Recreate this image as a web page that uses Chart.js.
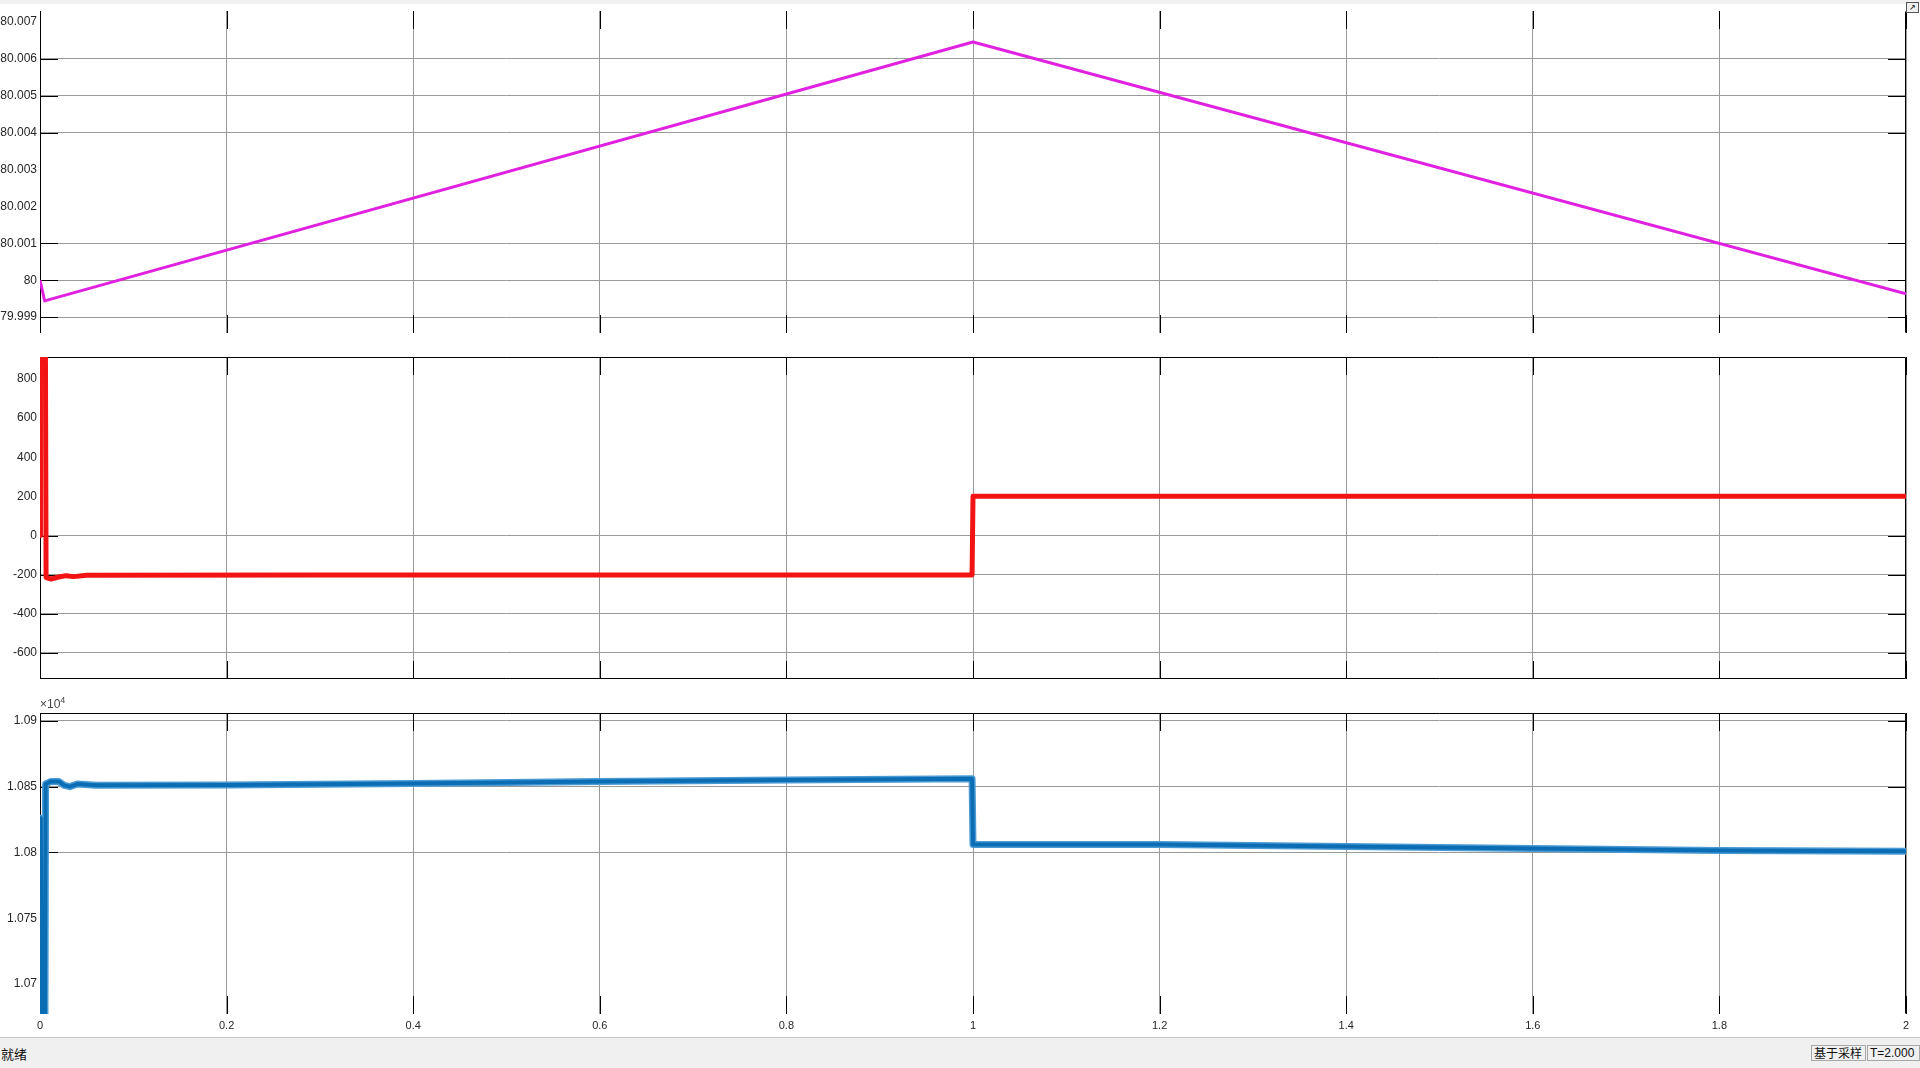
<!DOCTYPE html>
<html>
<head>
<meta charset="utf-8">
<script src="https://cdn.jsdelivr.net/npm/chart.js@4.4.1/dist/chart.umd.min.js"></script>
<style>
  html, body { margin:0; padding:0; background:#fff; width:1920px; height:1068px; overflow:hidden; font-family:'Liberation Sans', Arial, sans-serif; }
  .panel { position:absolute; left:0; width:1920px; }
  #p1 { top:0; height:345px; }
  #p2 { top:345px; height:355px; }
  #p3 { top:700px; height:338px; }
  #topstrip { position:absolute; left:0; top:0; width:1920px; height:4px; background:#f0f0f0; }
  #undock { position:absolute; left:1906px; top:2px; width:11px; height:9px; border:1px solid #555; background:#eee; font-size:8px; line-height:9px; text-align:center; color:#000; }
  #exp { position:absolute; left:40px; top:695px; font-size:12px; color:#444; }
  #exp sup { font-size:9px; }
  #status { position:absolute; left:0; top:1037px; width:1920px; height:31px; background:#f0f0f0; border-top:1px solid #c8c8c8; box-sizing:border-box; }
  #ready { position:absolute; left:1px; top:6px; font-family:'Noto Sans CJK SC', sans-serif; font-size:13px; color:#111; }
  .box { position:absolute; top:7px; height:16px; border:1px solid #a8a8a8; box-sizing:border-box; font-size:12px; line-height:14px; color:#111; padding-left:2px; }
  #mode { left:1811px; width:55px; font-family:'Noto Sans CJK SC', sans-serif; }
  #clock { left:1867px; width:53px; }
</style>
</head>
<body>
<div id="topstrip"></div>
<div class="panel" id="p1"><canvas id="posChart"></canvas></div>
<div class="panel" id="p2"><canvas id="forceChart"></canvas></div>
<div class="panel" id="p3"><canvas id="speedChart"></canvas></div>
<div id="undock">&#8599;</div>
<div id="exp">&times;10<sup>4</sup></div>
<div id="status">
  <div id="ready">就绪</div>
  <div class="box" id="mode">基于采样</div>
  <div class="box" id="clock">T=2.000</div>
</div>
<script>
// ── time axis (shared) ───────────────────────────────────────────
const timeTicks  = [0, 0.2, 0.4, 0.6, 0.8, 1, 1.2, 1.4, 1.6, 1.8, 2];
const timeLabels = ['0','0.2','0.4','0.6','0.8','1','1.2','1.4','1.6','1.8','2'];

// ── panel 1: position (magenta) ──────────────────────────────────
const posTime    = [0, 0.005, 1, 2];
const posValue   = [80, 79.99944, 80.00646, 79.99963];
const posTicks   = [79.999, 80, 80.001, 80.002, 80.003, 80.004, 80.005, 80.006, 80.007];
const posLabels  = ['79.999','80','80.001','80.002','80.003','80.004','80.005','80.006','80.007'];
const posGridded = [79.999, 80, 80.001, 80.004, 80.005, 80.006];

// ── panel 2: force (red) ─────────────────────────────────────────
const forceTime    = [0, 0.0005, 0.0055, 0.0065, 0.012, 0.02, 0.028, 0.036, 0.05, 0.3, 0.6, 0.999, 1.0, 1.3, 1.6, 2];
const forceValue   = [0, 1500, 1500, -215, -222, -212, -205, -210, -203, -202, -202, -202, 200, 201, 201, 201];
const forceTicks   = [-600, -400, -200, 0, 200, 400, 600, 800];
const forceLabels  = ['-600','-400','-200','0','200','400','600','800'];
const forceGridded = [-600, -400, -200, 0];

// ── panel 3: speed x10^4 (blue) ──────────────────────────────────
const speedTime    = [0, 0.0008, 0.0025, 0.005, 0.006, 0.012, 0.02, 0.026, 0.032, 0.04, 0.06, 0.2, 0.4, 0.6, 0.8, 0.999, 1.0, 1.2, 1.4, 1.6, 1.8, 2];
const speedValue   = [1.06, 1.0826, 1.06, 1.06, 1.0852, 1.0854, 1.0854, 1.0851, 1.0850, 1.0852, 1.0851, 1.08512, 1.08525, 1.0854, 1.0855, 1.0856, 1.0806, 1.0806, 1.08045, 1.0803, 1.08015, 1.0801];
const speedTicks   = [1.07, 1.075, 1.08, 1.085, 1.09];
const speedLabels  = ['1.07','1.075','1.08','1.085','1.09'];
const speedGridded = [1.08, 1.085, 1.09];

Chart.defaults.font.family = "'Liberation Sans', Arial, sans-serif";
Chart.defaults.font.size = 12;
Chart.defaults.color = '#262626';

const GRID = '#9a9a9a';

// MATLAB-ish frame: black inner ticks + selected box sides
const matFrame = {
  id: 'matFrame',
  beforeDatasetsDraw(chart, args, o) {
    const { ctx, chartArea: a, scales: { x, y } } = chart;
    const L = 18;
    ctx.save();
    ctx.strokeStyle = '#000';
    ctx.lineWidth = 1;
    ctx.beginPath();
    x.ticks.forEach(t => {
      const px = Math.round(x.getPixelForValue(t.value)) + 0.5;
      ctx.moveTo(px, a.top); ctx.lineTo(px, a.top + L);
      ctx.moveTo(px, a.bottom); ctx.lineTo(px, a.bottom - L);
    });
    y.ticks.forEach(t => {
      if (!o.gridded.includes(t.value)) return;
      const py = Math.round(y.getPixelForValue(t.value)) + 0.5;
      ctx.moveTo(a.left, py); ctx.lineTo(a.left + L, py);
      ctx.moveTo(a.right, py); ctx.lineTo(a.right - L, py);
    });
    const l = Math.round(a.left) + 0.5, r = Math.round(a.right) - 0.5;
    const tp = Math.round(a.top) + 0.5, bt = Math.round(a.bottom) - 0.5;
    if (o.left)   { ctx.moveTo(l, tp); ctx.lineTo(l, bt); }
    if (o.right)  { ctx.moveTo(r, tp); ctx.lineTo(r, bt); }
    if (o.top)    { ctx.moveTo(l, tp); ctx.lineTo(r, tp); }
    if (o.bottom) { ctx.moveTo(l, bt); ctx.lineTo(r, bt); }
    ctx.stroke();
    ctx.restore();
  }
};

function pts(ts, vs) { return ts.map((t, i) => ({ x: t, y: vs[i] })); }

function makePanel(id, datasets, y, frame, pad, showX) {
  return new Chart(document.getElementById(id), {
    type: 'line',
    data: { datasets },
    plugins: [matFrame],
    options: {
      responsive: true, maintainAspectRatio: false, animation: false,
      layout: { padding: { left: 0, right: 14, top: pad.top, bottom: pad.bottom } },
      elements: { point: { radius: 0 }, line: { tension: 0, borderJoinStyle: 'round' } },
      plugins: { legend: { display: false }, tooltip: { enabled: false }, matFrame: Object.assign({ gridded: y.gridded }, frame) },
      scales: {
        x: {
          type: 'linear', min: 0, max: 2,
          afterBuildTicks: s => { s.ticks = timeTicks.map(v => ({ value: v })); },
          afterFit: s => { s.height = showX ? 24 : 0; },
          grid: { color: GRID, drawTicks: false },
          border: { display: false },
          ticks: { display: showX, padding: 5, maxRotation: 0, autoSkip: false, font: { size: 11 },
                   callback: v => timeLabels[timeTicks.indexOf(v)] }
        },
        y: {
          type: 'linear', min: y.min, max: y.max,
          afterBuildTicks: s => { s.ticks = y.ticks.map(v => ({ value: v })); },
          afterFit: s => { s.width = 40; },
          grid: { color: c => y.gridded.includes(c.tick.value) ? GRID : 'rgba(0,0,0,0)', drawTicks: false },
          border: { display: false },
          ticks: { padding: 3, autoSkip: false, callback: v => y.labels[y.ticks.indexOf(v)] }
        }
      }
    }
  });
}

// 1. position
makePanel('posChart',
  [{ data: pts(posTime, posValue), borderColor: '#e022e0', borderWidth: 3 }],
  { min: 79.99857, max: 80.0073, ticks: posTicks, labels: posLabels, gridded: posGridded },
  { left: true, right: true, top: false, bottom: false },
  { top: 11, bottom: 12 }, false);

// 2. force
makePanel('forceChart',
  [{ data: pts(forceTime, forceValue), borderColor: '#f21414', borderWidth: 5 }],
  { min: -733, max: 912, ticks: forceTicks, labels: forceLabels, gridded: forceGridded },
  { left: true, right: true, top: true, bottom: true },
  { top: 12, bottom: 21 }, false);

// 3. speed (core drawn on top of a lighter halo)
makePanel('speedChart',
  [
    { data: pts(speedTime, speedValue), borderColor: '#0b6db4', borderWidth: 4, order: 0 },
    { data: pts(speedTime, speedValue), borderColor: '#4a9ad4', borderWidth: 7, order: 1 }
  ],
  { min: 1.06772, max: 1.0906, ticks: speedTicks, labels: speedLabels, gridded: speedGridded },
  { left: true, right: true, top: true, bottom: false },
  { top: 13, bottom: 0 }, true);
</script>
</body>
</html>
